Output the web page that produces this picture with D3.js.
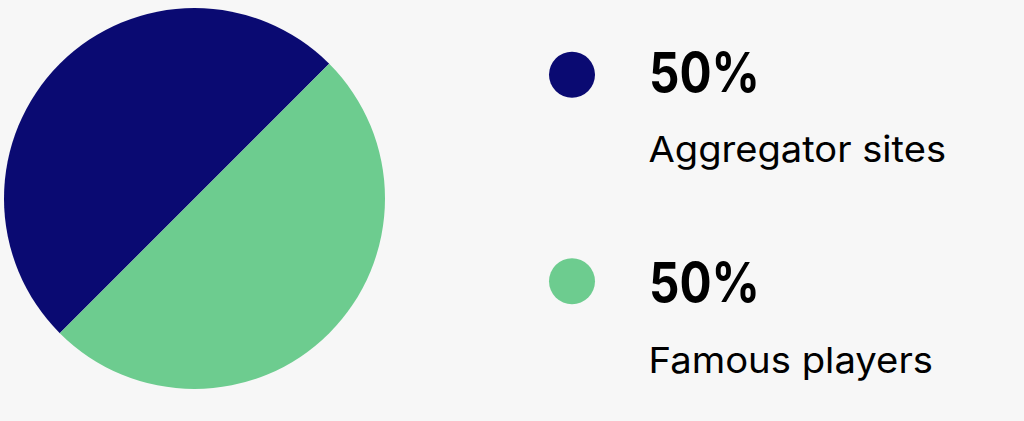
<!DOCTYPE html>
<html>
<head>
<meta charset="utf-8">
<script src="https://cdn.jsdelivr.net/npm/d3@7"></script>
<style>
html,body{margin:0;padding:0;background:#f7f7f7;}
svg{display:block;}
</style>
</head>
<body>
<script>
const categories = ["Aggregator sites", "Famous players"];
const values = [50, 50];
const colors = ["#0a0a72", "#6dcc8f"];

const W = 1024, H = 421;
const svg = d3.select("body").append("svg").attr("width", W).attr("height", H);
svg.append("rect").attr("width", W).attr("height", H).attr("fill", "#f7f7f7");

const data = categories.map((c, i) => ({name: c, value: values[i], color: colors[i]}));

const pie = d3.pie().sort(null).value(d => d.value)
  .startAngle(Math.PI * 5 / 4).endAngle(Math.PI * 5 / 4 + 2 * Math.PI);
const arc = d3.arc().innerRadius(0).outerRadius(190.5);

const g = svg.append("g").attr("transform", "translate(194.5,198.5)");
g.selectAll("path").data(pie(data)).join("path")
  .attr("d", arc).attr("fill", d => d.data.color);

const total = d3.sum(values);
const fmt = v => Math.round(v / total * 100) + "%";
const yText = d3.scalePoint().domain(categories).range([0, 210]);
const yDot = d3.scalePoint().domain(categories).range([74.7, 281.2]);

const items = svg.append("g").selectAll("g").data(data).join("g");
items.append("circle").attr("cx", 572).attr("cy", d => yDot(d.name)).attr("r", 23).attr("fill", d => d.color);
items.append("text").attr("x", 649).attr("y", d => 91.7 + yText(d.name))
  .attr("font-family", "Inter, 'Noto Sans', sans-serif").attr("font-weight", 700)
  .attr("font-size", 55).attr("fill", "#000")
  .attr("textLength", 111).attr("lengthAdjust", "spacingAndGlyphs")
  .text(d => fmt(d.value));
items.append("text").attr("x", 648.5).attr("y", d => 161.7 + yText(d.name) + (d.name === categories[1] ? 1 : 0))
  .attr("font-family", "Inter, 'Noto Sans', sans-serif").attr("font-weight", 400)
  .attr("font-size", 36).attr("fill", "#000")
  .attr("textLength", (d, i) => i === 0 ? 297.5 : 284.5).attr("lengthAdjust", "spacingAndGlyphs")
  .text(d => d.name);
</script>
</body>
</html>
